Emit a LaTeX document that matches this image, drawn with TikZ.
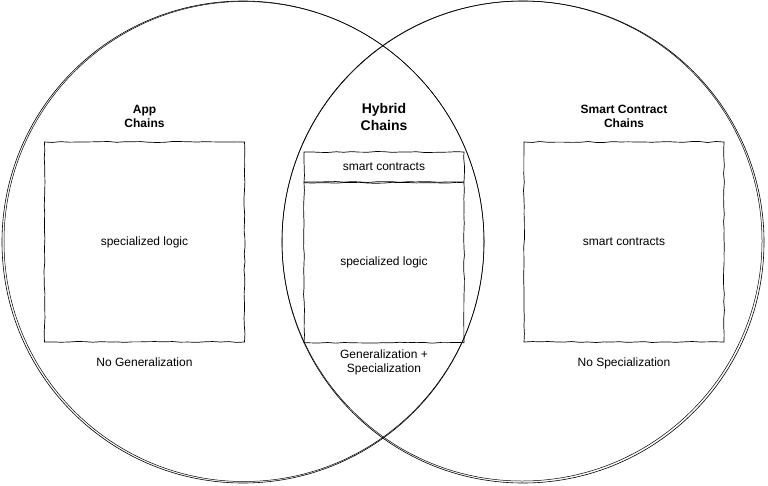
\documentclass[tikz,border=0pt]{standalone}
\usepackage{fontspec}
\setmainfont{Liberation Sans}
\usetikzlibrary{positioning,decorations.pathmorphing}

\begin{document}
\begin{tikzpicture}[x=1pt,y=-1pt,
  ring/.style={draw,circle,inner sep=0pt,line width=0.6pt,minimum size=482pt},
  sketch/.style={draw,line width=0.7pt,decorate,
    decoration={random steps,segment length=8pt,amplitude=0.5pt}},
  chainbox/.style={sketch,inner sep=0pt,minimum width=200pt,minimum height=200pt,
    font=\fontsize{12}{14}\selectfont},
  title/.style={inner sep=0pt,align=center,font=\bfseries\fontsize{12}{14}\selectfont},
  caption/.style={inner sep=0pt,align=center,font=\fontsize{12}{14}\selectfont}]
\pgfmathsetseed{7}
\useasboundingbox (0,0) rectangle (768,485);

\node[ring] (appset) at (243,242) {};
\draw[line width=0.5pt] (244,241.5) circle (240);
\node[ring] (scset) at (523,242) {};
\draw[line width=0.5pt] (522,241) circle (240);

\node[chainbox] (appbox) at (144.5,242) {specialized logic};
\node[chainbox] (scbox) at (624,242) {smart contracts};
\node[sketch,inner sep=0pt,minimum width=160pt,minimum height=30pt,
  font=\fontsize{12}{14}\selectfont] (hybsc) at (384,167) {smart contracts};
\node[sketch,inner sep=0pt,minimum width=160pt,minimum height=160pt,
  font=\fontsize{12}{14}\selectfont,below=0pt of hybsc] (hybsl) {specialized logic};

\node[title,above=14pt of appbox] (apptitle) {App\\Chains};
\node[title,above=14pt of scbox] (sctitle) {Smart Contract\\Chains};
\node[title,font=\bfseries\fontsize{14}{17}\selectfont,above=21pt of hybsc] (hybtitle) {Hybrid\\Chains};

\node[caption,below=15pt of appbox] (appnote) {No Generalization};
\node[caption,below=15pt of scbox] (scnote) {No Specialization};
\node[caption,below=7pt of hybsl] (hybnote) {Generalization +\\Specialization};
\end{tikzpicture}
\end{document}
